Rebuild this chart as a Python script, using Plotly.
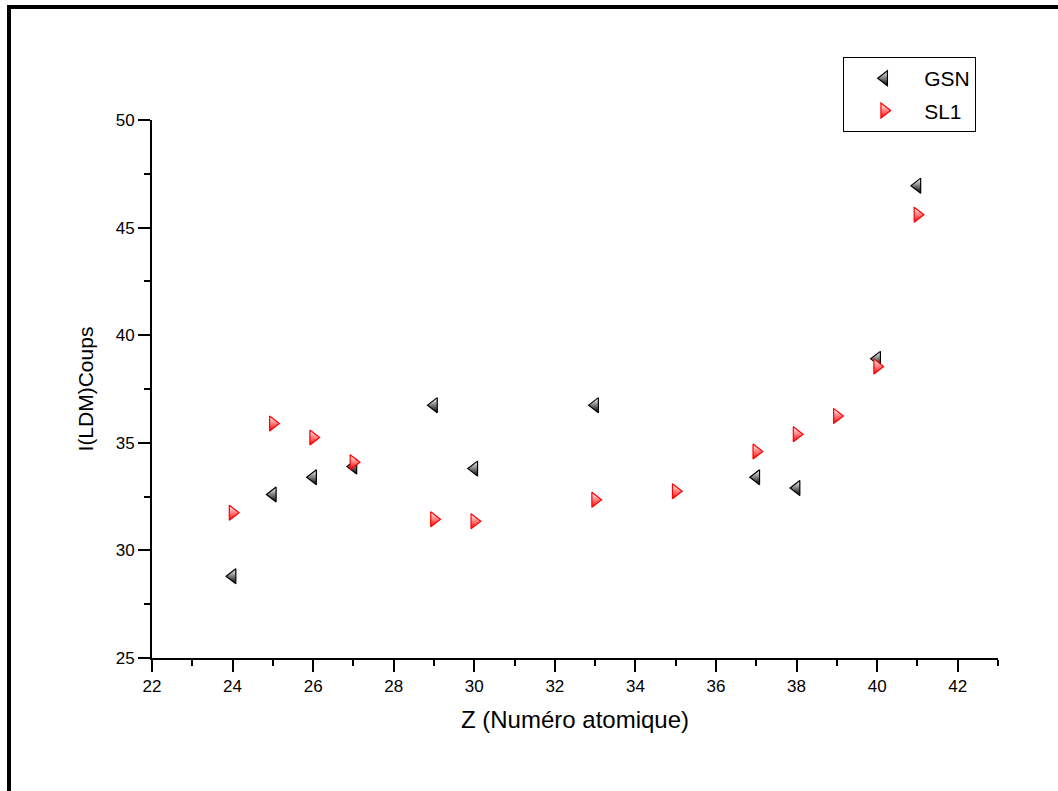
import plotly.graph_objects as go

z_gsn = [24, 25, 26, 27, 29, 30, 33, 37, 38, 40, 41]
i_gsn = [28.8, 32.6, 33.4, 33.9, 36.75, 33.8, 36.75, 33.4, 32.9, 38.9, 46.95]

z_sl1 = [24, 25, 26, 27, 29, 30, 33, 35, 37, 38, 39, 40, 41]
i_sl1 = [31.75, 35.9, 35.25, 34.1, 31.45, 31.35, 32.35, 32.75, 34.6, 35.4, 36.25, 38.55, 45.6]

font_family = "Liberation Sans, Arial, sans-serif"

fig = go.Figure()
fig.add_trace(go.Scatter(
    x=z_gsn, y=i_gsn, mode="markers", name="GSN", legendgroup="a",
    marker=dict(symbol="triangle-left", size=13, color="white",
                gradient=dict(type="vertical", color="black"),
                line=dict(color="black", width=1.2)),
))
fig.add_trace(go.Scatter(
    x=z_sl1, y=i_sl1, mode="markers", name="SL1", legendgroup="b",
    marker=dict(symbol="triangle-right", size=13, color="white",
                gradient=dict(type="vertical", color="red"),
                line=dict(color="red", width=1.2)),
))

axis_common = dict(
    showline=True, linecolor="black", linewidth=2,
    ticks="outside", ticklen=12, tickwidth=2, tickcolor="black",
    showgrid=False, zeroline=False, mirror=False,
    tickfont=dict(family=font_family, size=17, color="black"),
)

fig.update_xaxes(
    range=[22, 43], dtick=2, tick0=22,
    minor=dict(dtick=1, ticks="outside", ticklen=6, tickwidth=2, tickcolor="black"),
    title=dict(text="Z (Numéro atomique)", font=dict(family=font_family, size=24, color="black"), standoff=16),
    **axis_common,
)
fig.update_yaxes(
    range=[25, 50], dtick=5, tick0=25,
    minor=dict(dtick=2.5, ticks="outside", ticklen=6, tickwidth=2, tickcolor="black"),
    title=dict(text="I(LDM)Coups", font=dict(family=font_family, size=21, color="black"), standoff=16),
    **axis_common,
)

fig.update_layout(
    width=1058, height=791,
    margin=dict(l=152, r=60, t=120, b=133),
    plot_bgcolor="white", paper_bgcolor="white",
    showlegend=True,
    legend=dict(
        x=0.817, y=1.117, xanchor="left", yanchor="top",
        bgcolor="white", bordercolor="black", borderwidth=1,
        font=dict(family=font_family, size=21, color="black"),
        itemwidth=70, tracegroupgap=2, traceorder="grouped",
    ),
    shapes=[dict(
        type="rect", xref="paper", yref="paper",
        x0=(9 - 152) / 846, x1=1.2, y0=-0.4, y1=(658 - 7) / 538,
        line=dict(color="black", width=4), layer="below",
    )],
)

fig.write_html("out.html")
